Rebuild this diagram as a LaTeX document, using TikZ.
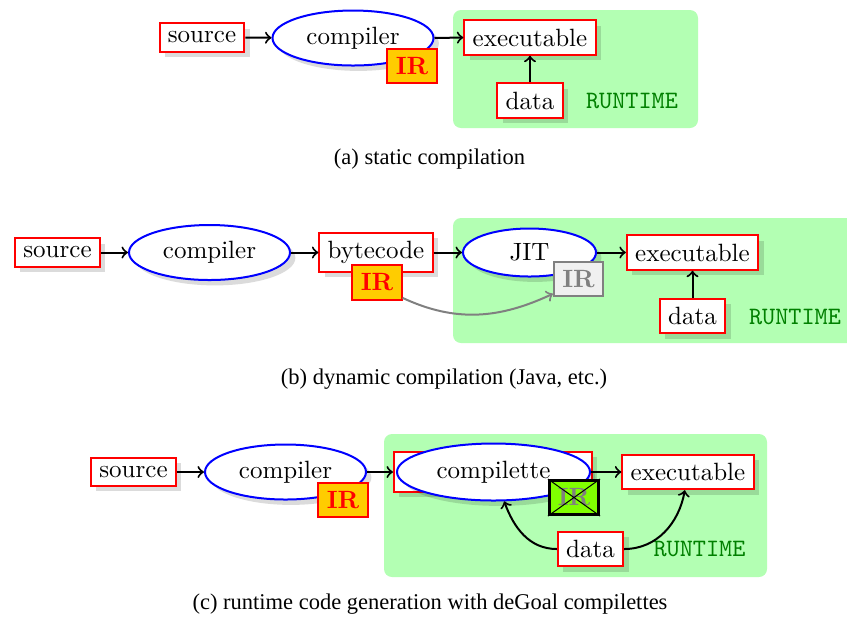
\documentclass[tikz,border=0pt]{standalone}
\usepackage{fontspec}
\newfontfamily\capfont{Liberation Serif}
\usetikzlibrary{shadows,shapes.geometric}

\definecolor{rtgreen}{RGB}{179,255,179}
\definecolor{irfill}{RGB}{255,204,0}
\definecolor{irxfill}{RGB}{128,255,0}
\definecolor{rttext}{RGB}{0,128,0}

\tikzset{
  shade/.style={drop shadow={fill=black,opacity=0.14}},
  stagebox/.style={draw=red, thick, fill=white, shade},
  proc/.style={ellipse, draw=blue, thick, fill=white, shade, inner sep=0pt},
  irbox/.style={draw=red, thick, fill=irfill, text=red, font=\bfseries},
  irgray/.style={draw=gray, thick, fill=black!6, text=gray, font=\bfseries},
  irdead/.style={draw=black, very thick, fill=irxfill, text=gray, font=\bfseries},
  runtime/.style={fill=rtgreen, rounded corners=3.2pt},
  rtlabel/.style={font=\ttfamily, text=rttext},
  flow/.style={->, thick},
  caption/.style={font=\capfont\fontsize{9}{11}\selectfont}
}

\begin{document}
\begin{tikzpicture}[x=0.4pt, y=-0.4pt]
\useasboundingbox (0,0) rectangle (847,623);

% ---------------- (a) static compilation ----------------
\fill[runtime] (453,10) rectangle (698,128);
\node[stagebox] (srcA) at (202,37.5) {source};
\node[proc, minimum width=64.4pt, minimum height=22pt] (compA) at (353,38) {compiler};
\node[irbox] (irA) at (412,66) {IR};
\node[stagebox] (exeA) at (530,37.5) {executable};
\node[stagebox] (dataA) at (530,100.5) {data};
\node[rtlabel] (rtA) at (632,101) {RUNTIME};
\draw[flow] (srcA) -- (compA);
\draw[flow] (compA.east) -- (exeA.west);
\draw[flow] (dataA) -- (exeA);
\node[caption] (capA) at (429.5,159) {(a) static compilation};

% ---------------- (b) dynamic compilation ----------------
\fill[runtime] (453,218) rectangle (880,343);
\node[stagebox] (srcB) at (57.5,252.5) {source};
\node[proc, minimum width=64.4pt, minimum height=22pt] (compB) at (209.5,252.5) {compiler};
\node[stagebox] (byteB) at (376,252.5) {bytecode};
\node[irbox] (irB) at (377,282.5) {IR};
\node[proc, minimum width=53.2pt, minimum height=19.2pt] (jitB) at (529.5,252.5) {JIT};
\node[irgray] (irjitB) at (578.5,279) {IR};
\node[stagebox] (exeB) at (692.5,252.5) {executable};
\node[stagebox] (dataB) at (692.5,316) {data};
\node[rtlabel] (rtB) at (795,317) {RUNTIME};
\draw[flow] (srcB) -- (compB);
\draw[flow] (compB) -- (byteB);
\draw[flow] (byteB) -- (jitB);
\draw[flow] (jitB) -- (exeB);
\draw[flow] (dataB) -- (exeB);
\draw[flow, gray] (irB.-31) to[out=-25, in=205] (irjitB.210);
\node[caption] (capB) at (444,379) {(b) dynamic compilation (Java, etc.)};

% ---------------- (c) runtime code generation ----------------
\fill[runtime] (384,434) rectangle (767,577);
\node[stagebox] (srcC) at (133.5,472) {source};
\node[proc, minimum width=64.4pt, minimum height=22pt] (compC) at (285.5,472) {compiler};
\node[irbox] (irC) at (343,500) {IR};
\node[stagebox, minimum width=79.2pt, minimum height=16pt] (cboxC) at (493,472) {};
\node[proc, minimum width=77.2pt, minimum height=22.8pt] (cletC) at (493.5,472) {compilette};
\node[irdead] (irxC) at (574,497.5) {IR};
\draw[thin] (irxC.north west) -- (irxC.south east)
            (irxC.north east) -- (irxC.south west);
\node[stagebox] (exeC) at (688,472) {executable};
\node[stagebox] (dataC) at (590.5,549) {data};
\node[rtlabel] (rtC) at (699.5,549) {RUNTIME};
\draw[flow] (srcC) -- (compC);
\draw[flow] (compC.east) -- (cboxC.west);
\draw[flow] (cletC.east) -- (exeC.west);
\draw[flow] (dataC) to[out=180, in=-70] (cletC);
\draw[flow] (dataC) to[out=0, in=-100] (exeC);
\node[caption] (capC) at (430,604) {(c) runtime code generation with deGoal compilettes};
\end{tikzpicture}
\end{document}
